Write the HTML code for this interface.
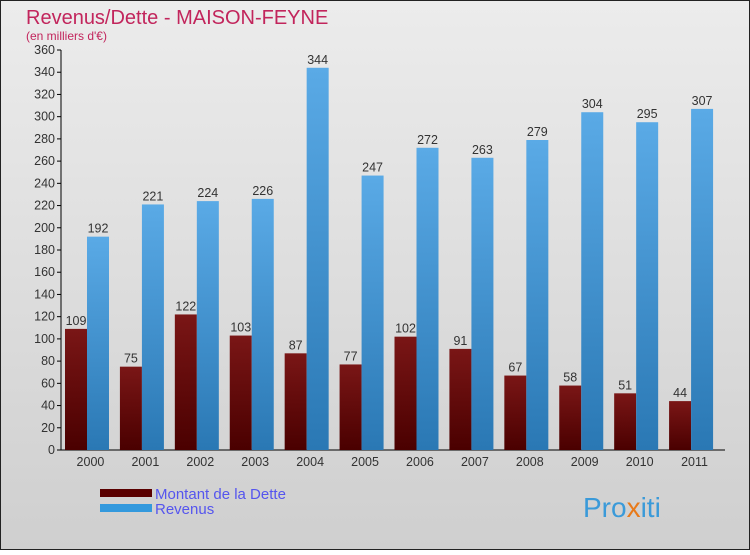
<!DOCTYPE html>
<html><head><meta charset="utf-8"><style>
html,body{margin:0;padding:0}
body{width:750px;height:550px;overflow:hidden;font-family:"Liberation Sans",sans-serif}
</style></head><body>
<svg id="c" width="750" height="550" xmlns="http://www.w3.org/2000/svg">
<defs>
<linearGradient id="bg" x1="0" y1="0" x2="0" y2="1"><stop offset="0" stop-color="#ececec"/><stop offset="1" stop-color="#cfcfcf"/></linearGradient>
<linearGradient id="gd" x1="0" y1="0" x2="0" y2="1"><stop offset="0" stop-color="#7a1616"/><stop offset="1" stop-color="#4a0000"/></linearGradient>
<linearGradient id="gr" x1="0" y1="0" x2="0" y2="1"><stop offset="0" stop-color="#5aaae6"/><stop offset="1" stop-color="#2a78b4"/></linearGradient>
</defs>
<rect x="0.5" y="0.5" width="749" height="549" fill="url(#bg)" stroke="#222"/>
<text x="26" y="24" font-size="20" fill="#c2255c">Revenus/Dette - MAISON-FEYNE</text>
<text x="26" y="40" font-size="12" fill="#c2255c">(en milliers d'€)</text>
<g id="axes"></g><g id="bars"></g>
<rect x="100" y="489" width="52" height="8" fill="#5a0000"/>
<text x="155" y="499" font-size="15" fill="#5555ee">Montant de la Dette</text>
<rect x="100" y="504" width="52" height="8" fill="#3399dd"/>
<text x="155" y="514" font-size="15" fill="#5555ee">Revenus</text>
<text x="583" y="517" font-size="28" fill="#3a9ad9">Pro<tspan fill="#e87a1a">x</tspan>iti</text>
</svg>
<script>
const years=["2000","2001","2002","2003","2004","2005","2006","2007","2008","2009","2010","2011"];
const dette=[109,75,122,103,87,77,102,91,67,58,51,44];
const revenus=[192,221,224,226,344,247,272,263,279,304,295,307];
const ticks=[0,20,40,60,80,100,120,140,160,180,200,220,240,260,280,300,320,340,360];
const NS="http://www.w3.org/2000/svg";
const x0=63,x1=722,yb=450,yt=50,ymax=360;
const gw=(x1-x0)/years.length;
const Y=v=>yb-(v/ymax)*(yb-yt);
const X=i=>x0+i*gw;
function mk(t,a,p){const e=document.createElementNS(NS,t);for(const k in a)e.setAttribute(k,a[k]);p.appendChild(e);return e;}
const ax=document.getElementById('axes'),bg=document.getElementById('bars');
let l=mk('line',{x1:61,y1:yt,x2:61,y2:yb,stroke:'#000'},ax);


l=mk('line',{x1:61,y1:yb,x2:x1+3,y2:yb,stroke:'#000'},ax);


ticks.forEach(t=>{
 mk('line',{x1:57,y1:Y(t),x2:61,y2:Y(t),stroke:'#000'},ax);
 const tx=mk('text',{x:55,y:Y(t)+4,'font-size':12.5,'text-anchor':'end',fill:'#333'},ax);tx.textContent=t;
 
 
});
years.forEach((y,i)=>{
 const tx=mk('text',{x:X(i)+gw/2,y:466,'font-size':12.5,'text-anchor':'middle',fill:'#333'},ax);tx.textContent=y;
 
 
 const bx=X(i)+2,bw=22;
 let r=mk('rect',{x:bx,y:Y(dette[i]),width:bw,height:yb-Y(dette[i]),fill:'url(#gd)'},bg);
 
 
 let t=mk('text',{x:bx+bw/2,y:Y(dette[i])-4,'font-size':12.5,'text-anchor':'middle',fill:'#333'},bg);t.textContent=dette[i];
 
 
 r=mk('rect',{x:bx+bw,y:Y(revenus[i]),width:bw,height:yb-Y(revenus[i]),fill:'url(#gr)'},bg);
 
 
 t=mk('text',{x:bx+bw*1.5,y:Y(revenus[i])-4,'font-size':12.5,'text-anchor':'middle',fill:'#333'},bg);t.textContent=revenus[i];
 
 
});
</script>
</body></html>
